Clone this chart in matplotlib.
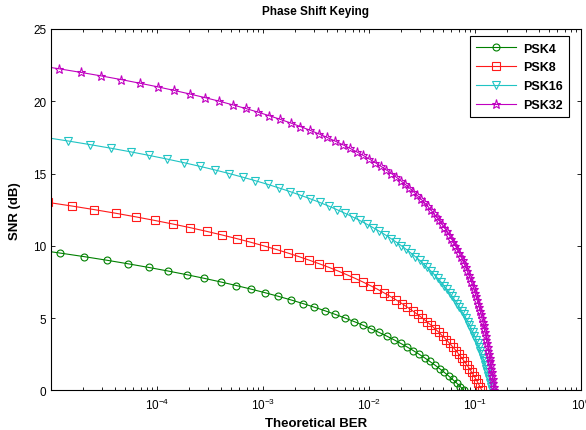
# Phase Shift Keying - SNR against theoretical BER for 4 PSK orders
import numpy as np
import matplotlib
matplotlib.use('Agg')
import matplotlib.pyplot as plt
from matplotlib.ticker import LogLocator, NullFormatter

plt.rcParams['font.family'] = ['Liberation Sans', 'DejaVu Sans']
plt.rcParams['mathtext.default'] = 'regular'

# SNR grid (dB), shared by all curves
snr_db = [0.0, 0.25, 0.5, 0.75, 1.0, 1.25, 1.5, 1.75, 2.0, 2.25, 2.5, 2.75,
          3.0, 3.25, 3.5, 3.75, 4.0, 4.25, 4.5, 4.75, 5.0, 5.25, 5.5, 5.75,
          6.0, 6.25, 6.5, 6.75, 7.0, 7.25, 7.5, 7.75, 8.0, 8.25, 8.5, 8.75,
          9.0, 9.25, 9.5, 9.75, 10.0, 10.25, 10.5, 10.75, 11.0, 11.25, 11.5, 11.75,
          12.0, 12.25, 12.5, 12.75, 13.0, 13.25, 13.5, 13.75, 14.0, 14.25, 14.5, 14.75,
          15.0, 15.25, 15.5, 15.75, 16.0, 16.25, 16.5, 16.75, 17.0, 17.25, 17.5, 17.75,
          18.0, 18.25, 18.5, 18.75, 19.0, 19.25, 19.5, 19.75, 20.0, 20.25, 20.5, 20.75,
          21.0, 21.25, 21.5, 21.75, 22.0, 22.25, 22.5]

# log10 of the BER at each SNR step
log_ber_psk4 = [-1.105, -1.138, -1.173, -1.211, -1.250, -1.291, -1.334, -1.379,
                -1.427, -1.476, -1.528, -1.583, -1.641, -1.702, -1.765, -1.833,
                -1.904, -1.978, -2.056, -2.138, -2.226, -2.317, -2.414, -2.515,
                -2.622, -2.734, -2.854, -2.979, -3.112, -3.252, -3.400, -3.556,
                -3.720, -3.893, -4.077, -4.270, -4.473, -4.688, -4.918, -5.158, -5.412]

log_ber_psk8 = [-0.935, -0.953, -0.971, -0.990, -1.010, -1.031, -1.053, -1.077,
                -1.101, -1.126, -1.153, -1.180, -1.209, -1.240, -1.271, -1.305,
                -1.339, -1.376, -1.414, -1.455, -1.497, -1.542, -1.589, -1.638,
                -1.689, -1.743, -1.800, -1.860, -1.922, -1.989, -2.059, -2.132,
                -2.210, -2.290, -2.376, -2.467, -2.562, -2.661, -2.766, -2.877,
                -2.995, -3.119, -3.250, -3.388, -3.533, -3.685, -3.847, -4.019,
                -4.199, -4.389, -4.590, -4.802, -5.027, -5.263]

log_ber_psk16 = [-0.838, -0.847, -0.855, -0.864, -0.873, -0.883, -0.893, -0.904,
                 -0.914, -0.926, -0.938, -0.950, -0.963, -0.976, -0.991, -1.005,
                 -1.020, -1.036, -1.053, -1.070, -1.088, -1.107, -1.127, -1.147,
                 -1.169, -1.192, -1.216, -1.240, -1.267, -1.294, -1.322, -1.352,
                 -1.383, -1.416, -1.450, -1.485, -1.523, -1.563, -1.605, -1.648,
                 -1.694, -1.742, -1.793, -1.845, -1.901, -1.960, -2.022, -2.087,
                 -2.155, -2.227, -2.302, -2.381, -2.465, -2.554, -2.647, -2.745,
                 -2.848, -2.956, -3.071, -3.193, -3.320, -3.455, -3.597, -3.746,
                 -3.905, -4.072, -4.248, -4.434, -4.631, -4.838, -5.058]

log_ber_psk32 = [-0.821, -0.825, -0.829, -0.833, -0.838, -0.842, -0.847, -0.852,
                 -0.857, -0.862, -0.867, -0.873, -0.879, -0.885, -0.892, -0.898,
                 -0.905, -0.912, -0.919, -0.927, -0.935, -0.943, -0.952, -0.960,
                 -0.970, -0.980, -0.990, -1.000, -1.011, -1.022, -1.034, -1.047,
                 -1.060, -1.073, -1.087, -1.102, -1.117, -1.133, -1.149, -1.167,
                 -1.184, -1.203, -1.223, -1.244, -1.265, -1.288, -1.312, -1.336,
                 -1.363, -1.390, -1.418, -1.448, -1.479, -1.512, -1.546, -1.581,
                 -1.619, -1.658, -1.700, -1.743, -1.789, -1.837, -1.888, -1.940,
                 -1.996, -2.054, -2.116, -2.181, -2.249, -2.321, -2.396, -2.475,
                 -2.559, -2.648, -2.740, -2.838, -2.941, -3.049, -3.163, -3.285,
                 -3.411, -3.546, -3.689, -3.838, -3.995, -4.163, -4.338, -4.524,
                 -4.720, -4.927, -5.146]

labels = ['PSK4', 'PSK8', 'PSK16', 'PSK32']
curves = [log_ber_psk4, log_ber_psk8, log_ber_psk16, log_ber_psk32]
colors = ['#008000', '#ff1a1a', '#20c4c4', '#c000c0']
markers = ['o', 's', 'v', '*']
msizes = [5.0, 5.5, 6.0, 6.5]
xticks = [1e-4, 1e-3, 1e-2, 1e-1, 1]

W, H = 586, 431
fig = plt.figure(figsize=(W / 100, H / 100), dpi=100)
# axes box in pixels: x 51..581, y 30..391
ax = fig.add_axes([51 / W, (H - 391.3) / H, 530 / W, 361.3 / H])

for lb, c, col, m, ms in zip(labels, curves, colors, markers, msizes):
    ber = 10.0 ** np.array(c)
    snr = np.array(snr_db[:len(c)])
    ax.plot(ber, snr, color=col, marker=m, markersize=ms, markerfacecolor='none',
            markeredgecolor=col, markeredgewidth=0.8, linewidth=0.8, label=lb)

ax.set_xscale('log')
ax.set_xlim(1e-5, 1)
ax.set_ylim(0, 25)
ax.set_yticks([0, 5, 10, 15, 20, 25])
ax.set_xticks(xticks)
ax.xaxis.set_minor_locator(LogLocator(base=10, subs=np.arange(2, 10), numticks=20))
ax.xaxis.set_minor_formatter(NullFormatter())
ax.tick_params(which='both', direction='in', top=True, right=True, labelsize=8.5,
               width=0.6)
ax.tick_params(axis='x', which='major', pad=5)
ax.tick_params(which='major', length=3)
ax.tick_params(which='minor', length=2)
for sp in ax.spines.values():
    sp.set_linewidth(0.8)

ax.set_title('Phase Shift Keying', fontsize=8.5, fontweight='bold', pad=11)
ax.set_xlabel('Theoretical BER', fontsize=9.5, fontweight='bold')
ax.set_ylabel('SNR (dB)', fontsize=9.5, fontweight='bold')
ax.xaxis.set_label_coords(0.5, -(418 - 391.3) / 361.3)
ax.yaxis.set_label_coords(-(51 - 21) / 530, 0.5)

leg = ax.legend(loc='upper right', bbox_to_anchor=(569.3 / W, 1 - 37.3 / H),
                bbox_transform=fig.transFigure, borderaxespad=0,
                fancybox=False, framealpha=1, edgecolor='black',
                prop={'weight': 'bold', 'size': 9}, handlelength=3.2,
                handletextpad=0.6, borderpad=0.5, labelspacing=0.55)
leg.get_frame().set_linewidth(0.8)

fig.savefig('out.png', dpi=100)
